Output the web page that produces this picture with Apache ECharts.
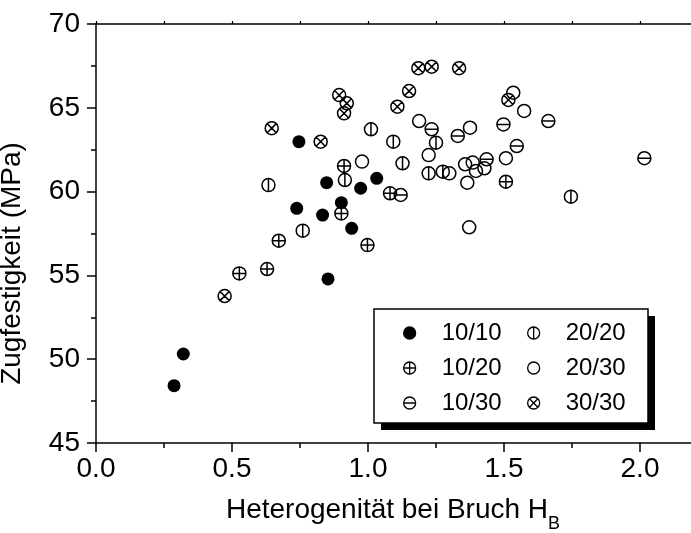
<!DOCTYPE html>
<html>
<head>
<meta charset="utf-8">
<script src="https://cdn.jsdelivr.net/npm/echarts@6/dist/echarts.min.js"></script>
<style>html,body{margin:0;padding:0;background:#fff}#c{width:691px;height:533px}</style>
</head>
<body>
<div id="c"></div>
<script>
// x: Heterogenität bei Bruch H_B, y: Zugfestigkeit (MPa)
const s1010 = [[0.746,62.98],[0.848,60.53],[1.032,60.79],[0.973,60.2],[0.738,59.0],[0.833,58.6],[0.902,59.34],[0.940,57.81],[0.853,54.79],[0.321,50.31],[0.287,48.42]];
const s1020 = [[0.912,61.53],[0.902,58.7],[0.672,57.07],[0.998,56.81],[0.629,55.38],[0.527,55.12],[1.507,60.59],[1.081,59.9]];
const s1030 = [[1.663,64.21],[1.234,63.72],[1.498,64.01],[1.330,63.32],[1.547,62.72],[2.016,61.99],[1.436,61.93],[1.120,59.8]];
const s2020 = [[1.011,63.72],[0.915,60.69],[0.634,60.39],[0.760,57.67],[1.093,62.98],[1.250,62.92],[1.127,61.69],[1.223,61.09],[1.275,61.19],[1.746,59.7]];
const s2030 = [[0.978,61.79],[1.534,65.9],[1.574,64.81],[1.188,64.21],[1.375,63.81],[1.223,62.18],[1.507,61.99],[1.357,61.63],[1.385,61.73],[1.428,61.39],[1.397,61.23],[1.299,61.09],[1.365,60.53],[1.372,57.87]];
const s3030 = [[0.894,65.76],[0.922,65.27],[0.912,64.67],[0.646,63.78],[0.826,62.98],[0.473,53.77],[1.185,67.36],[1.234,67.45],[1.335,67.36],[1.151,66.0],[1.108,65.07],[1.516,65.47]];

const seriesNames = ['10/10','10/20','10/30','20/20','20/30','30/30'];
const xTicks = [0.0, 0.5, 1.0, 1.5, 2.0];
const yTicks = [45, 50, 55, 60, 65, 70];

const C = 'M0,10A10,10,0,1,1,20,10A10,10,0,1,1,0,10Z';
const symbols = {
  '10/10': 'circle',
  '10/20': 'path://' + C + 'M10,0L10,20M0,10L20,10',
  '10/30': 'path://' + C + 'M0,10L20,10',
  '20/20': 'path://' + C + 'M10,0L10,20',
  '20/30': 'path://' + C,
  '30/30': 'path://' + C + 'M2.93,2.93L17.07,17.07M17.07,2.93L2.93,17.07'
};
const dataMap = {'10/10': s1010, '10/20': s1020, '10/30': s1030, '20/20': s2020, '20/30': s2030, '30/30': s3030};

const FONT = '"Liberation Sans", Arial, sans-serif';
const chart = echarts.init(document.getElementById('c'), null, {renderer: 'canvas'});

const series = seriesNames.map(n => ({
  name: n,
  type: 'scatter',
  data: dataMap[n],
  symbol: symbols[n],
  symbolSize: 13,
  symbolKeepAspect: true,
  itemStyle: {
    color: n === '10/10' ? '#000' : 'rgba(0,0,0,0)',
    borderColor: '#000',
    borderWidth: n === '10/10' ? 0 : 1.5,
    opacity: 1
  },
  emphasis: {disabled: true}
}));

const legendCommon = {
  orient: 'vertical',
  top: 321,
  itemWidth: 54,
  itemHeight: 12,
  itemGap: 11,
  selectedMode: false,
  symbolKeepAspect: true,
  padding: 0,
  textStyle: {fontFamily: FONT, fontSize: 24, color: '#000'},
  itemStyle: {borderWidth: 1.3, borderColor: '#000'}
};

chart.setOption({
  animation: false,
  backgroundColor: '#fff',
  textStyle: {fontFamily: FONT},
  grid: {left: 96, top: 24, bottom: 90, right: -85, containLabel: false, outerBoundsMode: 'none'},
  graphic: [{
    type: 'rect', z: 3,
    shape: {x: 381, y: 316, width: 274, height: 114},
    style: {fill: '#000', stroke: null}
  }, {
    type: 'rect', z: 3,
    shape: {x: 374, y: 309, width: 274, height: 114},
    style: {fill: '#fff', stroke: '#000', lineWidth: 1.5}
  }],
  legend: [
    Object.assign({}, legendCommon, {left: 403, data: seriesNames.slice(0, 3)}),
    Object.assign({}, legendCommon, {left: 527, data: seriesNames.slice(3)})
  ],
  xAxis: [{
    type: 'value', min: 0, max: 2.5, interval: 0.5, position: 'bottom',
    name: '{a|Heterogenität bei Bruch H}{b|B}',
    nameLocation: 'middle', nameGap: 44,
    nameTextStyle: {
      padding: [0, 86, 0, 0],
      rich: {
        a: {fontFamily: FONT, fontSize: 28, color: '#000', lineHeight: 28},
        b: {fontFamily: FONT, fontSize: 18, color: '#000', padding: [28, 0, 0, 0]}
      }
    },
    axisLine: {show: true, lineStyle: {color: '#000', width: 1.5}},
    axisTick: {show: true, inside: false, length: 9, lineStyle: {color: '#000', width: 1.5}},
    minorTick: {show: true, splitNumber: 2, length: 5, lineStyle: {color: '#000', width: 1.5}},
    axisLabel: {fontFamily: FONT, fontSize: 28, color: '#000', margin: 12,
      formatter: v => (xTicks.indexOf(v) >= 0 ? v.toFixed(1) : '')},
    splitLine: {show: false}
  }, {
    type: 'value', min: 0, max: 2.5, interval: 0.25, position: 'top',
    axisLine: {show: true, lineStyle: {color: '#000', width: 1.5}},
    axisTick: {show: true, inside: false, length: 3, lineStyle: {color: '#000', width: 1.2}},
    axisLabel: {show: false},
    splitLine: {show: false}
  }],
  yAxis: [{
    type: 'value', min: 45, max: 70, interval: 5,
    name: 'Zugfestigkeit (MPa)',
    nameLocation: 'middle', nameGap: 70,
    nameTextStyle: {fontFamily: FONT, fontSize: 28, color: '#000', padding: [0, 60, 0, 0]},
    axisLine: {show: true, lineStyle: {color: '#000', width: 1.5}},
    axisTick: {show: true, inside: false, length: 9, lineStyle: {color: '#000', width: 1.5}},
    minorTick: {show: true, splitNumber: 2, length: 5, lineStyle: {color: '#000', width: 1.5}},
    axisLabel: {fontFamily: FONT, fontSize: 28, color: '#000', margin: 16,
      formatter: v => (yTicks.indexOf(v) >= 0 ? String(v) : '')},
    splitLine: {show: false}
  }],
  series: series
});
</script>
</body>
</html>
